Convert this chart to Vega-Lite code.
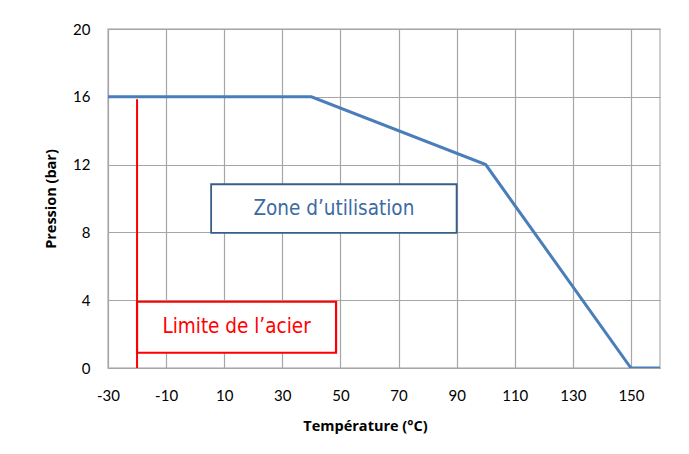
{
  "$schema": "https://vega.github.io/schema/vega-lite/v6.json",
  "width": 552,
  "height": 339,
  "autosize": {"type": "none"},
  "padding": {"left": 108, "top": 29, "right": 29, "bottom": 86},
  "background": "white",
  "config": {
    "view": {"stroke": "#bfbfbf", "strokeWidth": 1.5},
    "axis": {
      "gridColor": "#a6a6a6",
      "gridWidth": 1.2,
      "domainColor": "#a6a6a6",
      "ticks": false,
      "labelFont": "Lato",
      "labelFontSize": 15,
      "labelColor": "#000000",
      "titleFont": "Open Sans",
      "titleFontSize": 14.5,
      "titleFontWeight": "bold",
      "titleColor": "#000000"
    }
  },
  "datasets": {
    "curve": [
      {"t": -30, "p": 16},
      {"t": 40, "p": 16},
      {"t": 100, "p": 12},
      {"t": 150, "p": 0},
      {"t": 160, "p": 0}
    ],
    "limit": [{"t": -20, "p0": 0, "p1": 15.85}],
    "boxes": [
      {"label": "Limite de l’acier", "x1": -20, "x2": 48.5, "y1": 0.9, "y2": 3.91, "kind": "acier"},
      {"label": "Zone d’utilisation", "x1": 5.5, "x2": 90, "y1": 7.97, "y2": 10.84, "kind": "zone"}
    ]
  },
  "layer": [
    {
      "data": {"name": "curve"},
      "mark": {"type": "line", "color": "#4a7ebb", "strokeWidth": 3, "clip": true},
      "encoding": {
        "x": {
          "field": "t", "type": "quantitative",
          "scale": {"domain": [-30, 160], "nice": false, "zero": false},
          "axis": {
            "title": "Température (°C)",
            "values": [-30, -20, -10, 0, 10, 20, 30, 40, 50, 60, 70, 80, 90, 100, 110, 120, 130, 140, 150, 160],
            "labelExpr": "(datum.value + 30) % 20 == 0 && datum.value < 160 ? replace(datum.label, '−', '-') : ''",
            "labelFlush": false,
            "labelOverlap": false,
            "labelPadding": 20,
            "titlePadding": 16,
            "titleX": 257,
            "titleAnchor": "middle"
          }
        },
        "y": {
          "field": "p", "type": "quantitative",
          "scale": {"domain": [0, 20], "nice": false},
          "axis": {
            "title": "Pression (bar)",
            "values": [0, 4, 8, 12, 16, 20],
            "labelPadding": 18,
            "titlePadding": 14
          }
        }
      }
    },
    {
      "data": {"name": "limit"},
      "mark": {"type": "rule", "color": "#ff0000", "strokeWidth": 2},
      "encoding": {
        "x": {"field": "t", "type": "quantitative"},
        "y": {"field": "p0", "type": "quantitative"},
        "y2": {"field": "p1"}
      }
    },
    {
      "data": {"name": "boxes"},
      "mark": {"type": "rect", "fill": "white"},
      "encoding": {
        "x": {"field": "x1", "type": "quantitative"},
        "x2": {"field": "x2"},
        "y": {"field": "y1", "type": "quantitative"},
        "y2": {"field": "y2"},
        "stroke": {"field": "kind", "type": "nominal", "scale": {"domain": ["acier", "zone"], "range": ["#ff0000", "#385d8a"]}, "legend": null},
        "strokeWidth": {"field": "kind", "type": "nominal", "scale": {"domain": ["acier", "zone"], "range": [2.2, 1.8]}, "legend": null}
      }
    },
    {
      "data": {"name": "boxes"},
      "transform": [
        {"calculate": "(datum.x1 + datum.x2) / 2", "as": "xc"},
        {"calculate": "(datum.y1 + datum.y2) / 2", "as": "yc"}
      ],
      "mark": {"type": "text", "font": "DejaVu Sans Condensed", "fontSize": 20.5, "baseline": "middle", "align": "center"},
      "encoding": {
        "x": {"field": "xc", "type": "quantitative"},
        "y": {"field": "yc", "type": "quantitative"},
        "text": {"field": "label"},
        "color": {"field": "kind", "type": "nominal", "scale": {"domain": ["acier", "zone"], "range": ["#ff0000", "#3d6aa3"]}, "legend": null}
      }
    }
  ]
}
